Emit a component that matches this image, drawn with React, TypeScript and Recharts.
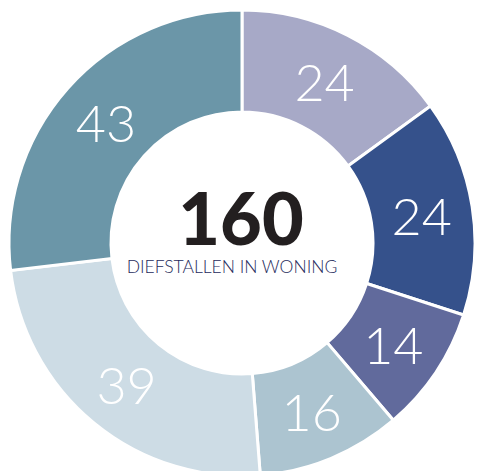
import React from "react";
import { PieChart, Pie, Cell } from "recharts";

const categories = ["A", "B", "C", "D", "E", "F"];
const values = [24, 24, 14, 16, 39, 43];
const COLORS = ["#a7a9c7", "#35518b", "#616a9c", "#acc4d0", "#cddce5", "#6b96a8"];
const total = 160;
const centerLabel = "DIEFSTALLEN IN WONING";

const data = categories.map((name, i) => ({ name, value: values[i] }));

const RAD = Math.PI / 180;

const renderLabel = ({ cx, cy, midAngle, innerRadius, outerRadius, value }: any) => {
  const r = (innerRadius + outerRadius) / 2;
  const x = cx + r * Math.cos(-midAngle * RAD);
  const y = cy + r * Math.sin(-midAngle * RAD);
  return (
    <text
      x={x}
      y={y}
      fill="#ffffff"
      textAnchor="middle"
      dominantBaseline="central"
      fontFamily="Lato, sans-serif"
      fontWeight={300}
      fontSize={52}
    >
      {value}
    </text>
  );
};

export default function App() {
  return (
    <div style={{ position: "absolute", left: 0, top: 0, width: 478, height: 471, background: "#fff" }}>
      <PieChart width={478} height={471} margin={{ top: 0, right: 0, bottom: 0, left: 0 }}>
        <Pie
          data={data}
          dataKey="value"
          cx={242}
          cy={243}
          innerRadius={131}
          outerRadius={233}
          startAngle={90}
          endAngle={-270}
          stroke="#ffffff"
          strokeWidth={3}
          label={renderLabel}
          labelLine={false}
          isAnimationActive={false}
        >
          {data.map((entry, index) => (
            <Cell key={`cell-${index}`} fill={COLORS[index]} />
          ))}
        </Pie>
        <text
          x={241}
          y={245}
          textAnchor="middle"
          fill="#231f20"
          fontFamily="Lato, sans-serif"
          fontWeight={900}
          fontSize={72}
        >
          {total}
        </text>
        <text
          x={232}
          y={273}
          textAnchor="middle"
          fill="#262b5c"
          fontFamily="Lato, sans-serif"
          fontWeight={300}
          fontSize={17.5}
        >
          {centerLabel}
        </text>
      </PieChart>
    </div>
  );
}
